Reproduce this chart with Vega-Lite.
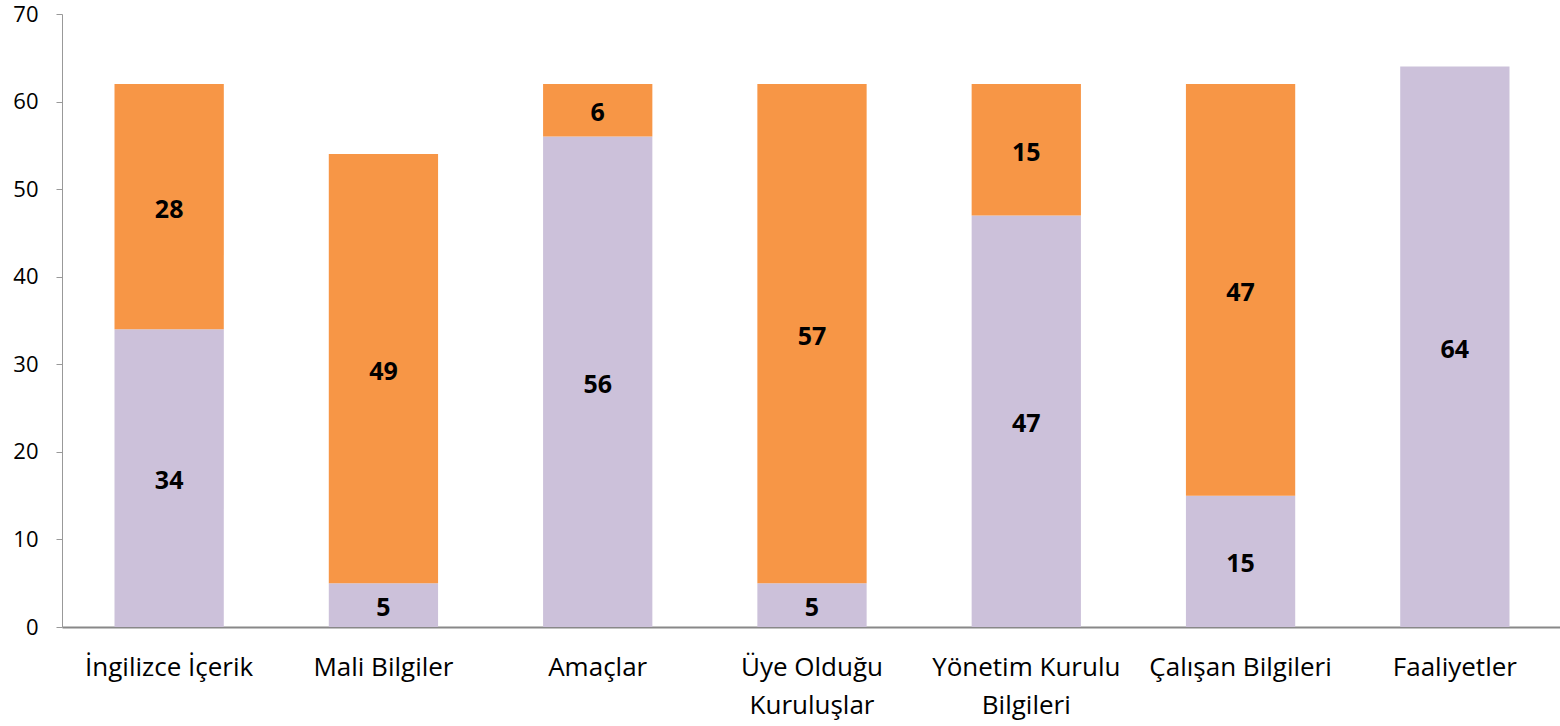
{
  "$schema": "https://vega.github.io/schema/vega-lite/v6.json",
  "autosize": "none",
  "width": 1500,
  "height": 613,
  "padding": {"left": 62, "top": 14, "right": 0, "bottom": 99},
  "background": "white",
  "config": {"view": {"stroke": null}, "font": "Open Sans"},
  "data": {"values": [
    {"kategori": "İngilizce İçerik", "seri": "Var", "sira": 1, "deger": 34},
    {"kategori": "İngilizce İçerik", "seri": "Yok", "sira": 2, "deger": 28},
    {"kategori": "Mali Bilgiler", "seri": "Var", "sira": 1, "deger": 5},
    {"kategori": "Mali Bilgiler", "seri": "Yok", "sira": 2, "deger": 49},
    {"kategori": "Amaçlar", "seri": "Var", "sira": 1, "deger": 56},
    {"kategori": "Amaçlar", "seri": "Yok", "sira": 2, "deger": 6},
    {"kategori": "Üye Olduğu|Kuruluşlar", "seri": "Var", "sira": 1, "deger": 5},
    {"kategori": "Üye Olduğu|Kuruluşlar", "seri": "Yok", "sira": 2, "deger": 57},
    {"kategori": "Yönetim Kurulu|Bilgileri", "seri": "Var", "sira": 1, "deger": 47},
    {"kategori": "Yönetim Kurulu|Bilgileri", "seri": "Yok", "sira": 2, "deger": 15},
    {"kategori": "Çalışan Bilgileri", "seri": "Var", "sira": 1, "deger": 15},
    {"kategori": "Çalışan Bilgileri", "seri": "Yok", "sira": 2, "deger": 47},
    {"kategori": "Faaliyetler", "seri": "Var", "sira": 1, "deger": 64}
  ]},
  "transform": [
    {"stack": "deger", "groupby": ["kategori"], "sort": [{"field": "sira"}], "as": ["y0", "y1"]},
    {"calculate": "(datum.y0 + datum.y1) / 2", "as": "orta"}
  ],
  "encoding": {
    "x": {
      "field": "kategori", "type": "nominal", "sort": null,
      "scale": {"paddingInner": 0.49, "paddingOuter": 0.245},
      "axis": {
        "title": null, "labelAngle": 0, "labelFontSize": 26, "labelColor": "#000000",
        "labelExpr": "split(datum.label, '|')", "labelLineHeight": 38,
        "labelPadding": 27, "ticks": false, "domainColor": "#888888", "domainWidth": 2,
        "labelFont": "Open Sans", "labelLimit": 0
      }
    }
  },
  "layer": [
    {
      "mark": {"type": "bar"},
      "encoding": {
        "y": {"field": "y0", "type": "quantitative", "scale": {"domain": [0, 70]},
          "axis": {"title": null, "values": [0,10,20,30,40,50,60,70], "grid": false,
            "labelFontSize": 22, "labelColor": "#000000", "labelPadding": 18,
            "tickSize": 6, "tickColor": "#999999", "domainColor": "#999999", "labelFont": "Open Sans"}},
        "y2": {"field": "y1"},
        "color": {"field": "seri", "type": "nominal", "legend": null,
          "scale": {"domain": ["Var", "Yok"], "range": ["#CCC1DA", "#F79646"]}}
      }
    },
    {
      "mark": {"type": "text", "fontSize": 25, "fontWeight": "bold", "color": "#000000", "baseline": "middle", "dy": 3, "font": "Open Sans"},
      "encoding": {
        "y": {"field": "orta", "type": "quantitative"},
        "text": {"field": "deger", "type": "quantitative"}
      }
    }
  ]
}
